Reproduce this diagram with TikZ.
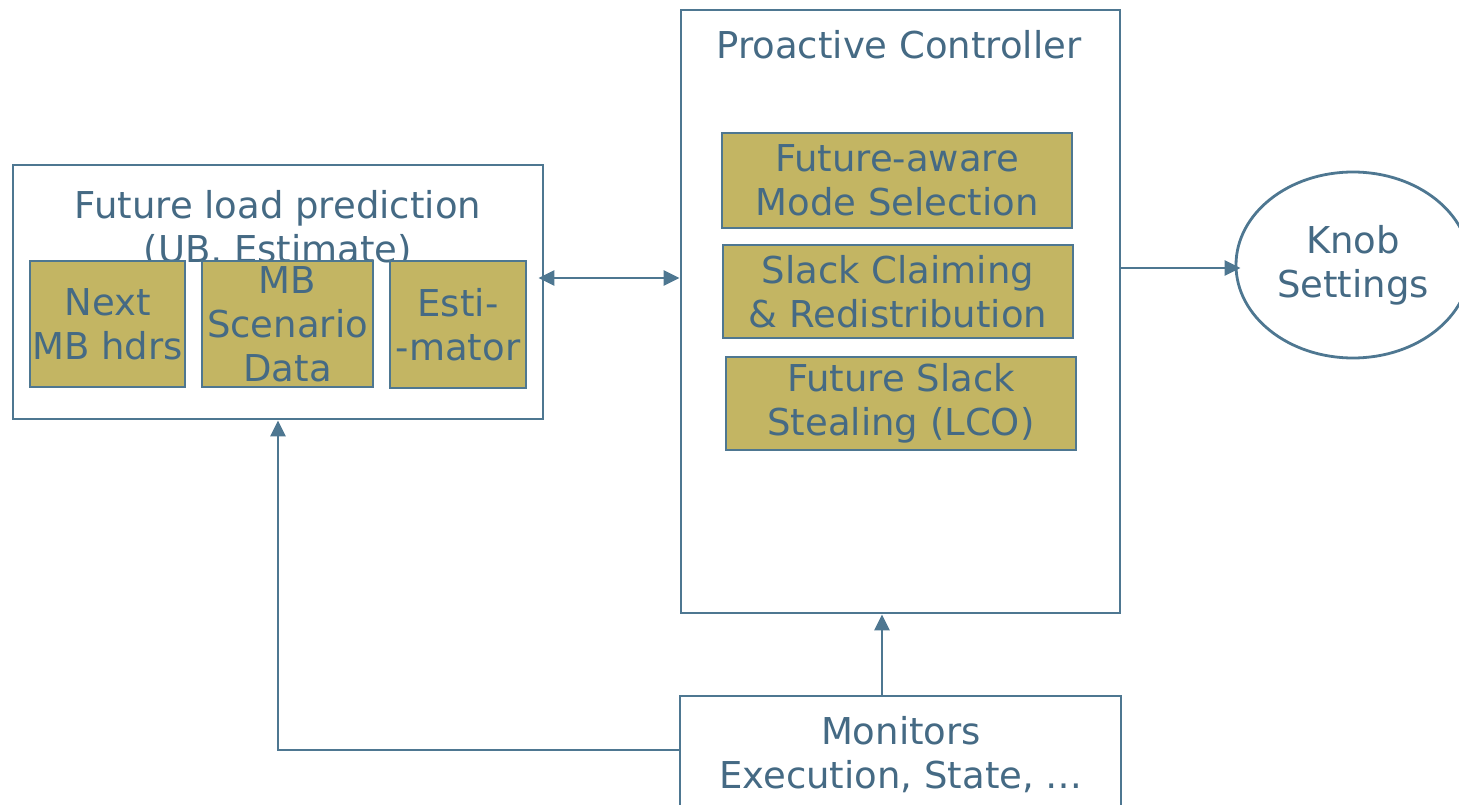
\documentclass[tikz,border=0pt]{standalone}
\usepackage{fontspec}
\setmainfont{DejaVu Sans}
\usetikzlibrary{arrows.meta,shapes.geometric,calc}
\definecolor{ink}{HTML}{456A84}
\definecolor{edge}{HTML}{4E7791}
\definecolor{olive}{HTML}{C3B563}
\tikzset{
  txt/.style={text=ink, align=center, font=\fontsize{37}{44}\selectfont, inner sep=0pt},
  frame/.style={draw=edge, line width=2.8pt, fill=white, rectangle, inner sep=0pt},
  unit/.style={draw=edge, line width=2.8pt, fill=olive, rectangle, inner sep=0pt,
    text=ink, align=center, font=\fontsize{37}{44}\selectfont},
  tip/.style={Triangle[length=16pt,width=15pt]},
  link/.style={draw=edge, line width=2.8pt, -{Triangle[length=16pt,width=15pt]}},
  dbl/.style={draw=edge, line width=2.8pt, {Triangle[length=16pt,width=15pt]}-{Triangle[length=16pt,width=15pt]}}
}
\begin{document}
\begin{tikzpicture}[x=1pt,y=-1pt]
\useasboundingbox (0,0) rectangle (1459,805);

% prediction block
\node[frame, minimum width=530pt, minimum height=254pt] (pred) at (278,292) {};
\node[txt] (predtitle) at (278,229) {Future load prediction\\(UB, Estimate)};
\node[unit, minimum width=155pt, minimum height=126pt] (hdrs) at (107.5,324) {Next\\MB hdrs};
\node[unit, minimum width=171pt, minimum height=126pt] (scen) at (287.5,324) {MB\\Scenario\\Data};
\node[unit, minimum width=136pt, minimum height=127pt] (est) at (458,324.5) {Esti-\\-mator};

% controller block
\node[frame, minimum width=439pt, minimum height=603pt] (ctrl) at (900.5,311.5) {};
\node[txt] (ctrltitle) at (899,45) {Proactive Controller};
\node[unit, minimum width=350pt, minimum height=95pt] (mode) at (897,180.5) {Future-aware\\Mode Selection};
\node[unit, minimum width=350pt, minimum height=93pt] (slack) at (898,291.5) {Slack Claiming\\\&\ Redistribution};
\node[unit, minimum width=350pt, minimum height=93pt] (steal) at (901,403.5) {Future Slack\\Stealing (LCO)};

% output
\node[draw=edge, line width=2.8pt, ellipse, minimum width=234pt, minimum height=186pt, inner sep=0pt,
  text=ink, align=center, font=\fontsize{37}{44}\selectfont] (knob) at (1353,265) {Knob\\Settings};

% monitors
\node[frame, minimum width=441pt, minimum height=120pt] (mon) at (900.5,756) {};
\node[txt] (montext) at (901,755) {Monitors\\Execution, State, …};

% connectors
\draw[dbl] ($(pred.east)+(-6,-14)$) -- ($(ctrl.west)+(0,-33.5)$);
\draw[link] ($(knob.west -| ctrl.east)+(0,3)$) -- ($(knob.west)+(6,3)$);
\draw[link] ([xshift=-18.5pt]mon.north) -- ([xshift=-18.5pt]ctrl.south);
\draw[link] ([yshift=6pt]mon.west) -| (pred.south);
\end{tikzpicture}
\end{document}
